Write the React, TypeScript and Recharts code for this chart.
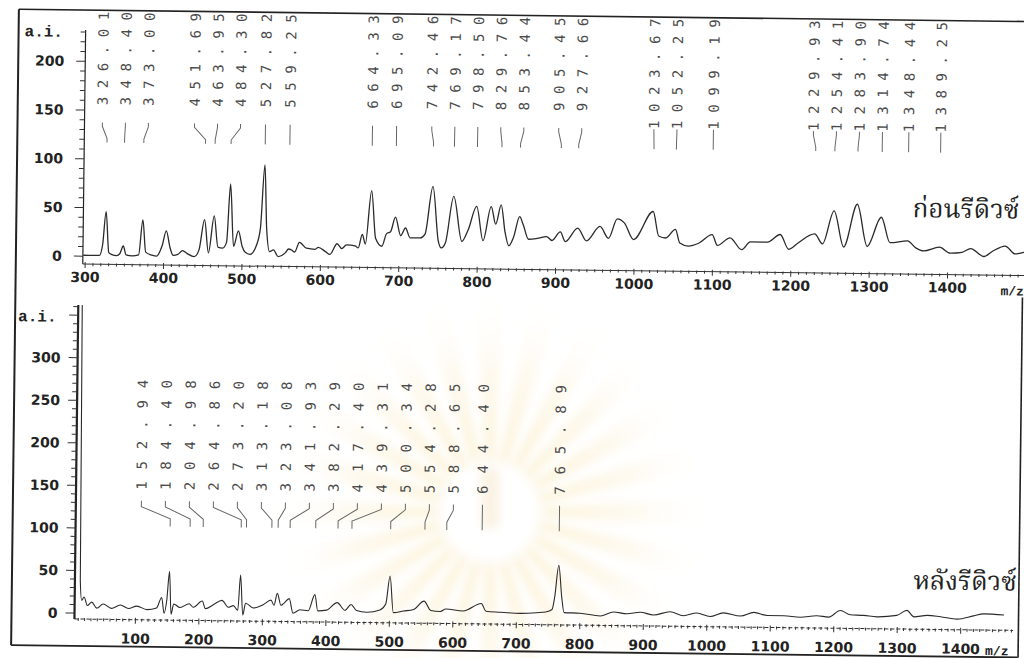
import { ComposedChart, Line, Scatter, XAxis, YAxis } from 'recharts';

// Upper trace: spectrum before reduction
const beforeMz = [
  297.5, 305, 318, 322, 326.01, 330, 334, 340, 344, 348.4, 352, 360, 368, 373, 377, 385, 391, 398, 403, 408,
  412, 418, 424, 430, 439, 445, 451.69, 457, 463.95, 469, 475, 480, 484.3, 489, 495, 500, 504, 510, 518, 523,
  527.82, 531, 535, 540, 546, 555, 559.25, 563, 567, 573, 582, 593, 597, 606, 612, 621, 627, 633, 644, 648,
  653, 657, 664.33, 670, 678, 684, 689, 695.09, 702, 708, 714, 727, 733, 742.46, 750, 754, 759, 769.17, 780, 788,
  798.5, 807, 817, 823, 829.76, 835, 840, 846, 853.44, 858, 865, 876, 888, 895, 905.45, 912, 927.66, 939, 956, 967,
  978, 987, 999, 1023.67, 1031, 1040, 1052.25, 1058, 1069, 1082, 1099.19, 1106, 1122, 1137, 1148, 1170, 1186, 1197, 1208, 1229.93,
  1240, 1254.41, 1267, 1283.9, 1297, 1314.74, 1326, 1348.44, 1359, 1369, 1389.25, 1403, 1418, 1429, 1446, 1458, 1473, 1486, 1500, 1515,
];
const beforeAi = [
  1, 1, 1, 12, 46, 4, 2, 1, 3, 11, 2, 1, 2, 38, 5, 2, 1, 12, 27, 10,
  2, 3, 7, 4, 1, 8, 39, 5, 43, 11, 10, 16, 76, 12, 28, 12, 6, 4, 13, 31,
  96, 30, 7, 9, 2, 6, 10, 9, 7, 17, 11, 10, 12, 8, 5, 16, 11, 15, 14, 12,
  26, 16, 71, 22, 14, 27, 29, 44, 25, 33, 23, 23, 27, 76, 20, 13, 18, 66, 20, 32,
  56, 21, 56, 38, 58, 30, 16, 25, 46, 38, 23, 24, 26, 22, 31, 21, 35, 22, 37, 25,
  45, 41, 24, 53, 28, 26, 35, 21, 18, 21, 30, 19, 27, 15, 23, 23, 31, 16, 22, 32,
  22, 56, 19, 63, 20, 50, 24, 26, 19, 16, 20, 14, 15, 19, 11, 17, 22, 14, 16, 12,
];
const beforePeaks = [
  326.01, 348.4, 373.0, 451.69, 463.95, 484.3, 527.82, 559.25, 664.33, 695.09, 742.46, 769.17, 798.5,
  829.76, 853.44, 905.45, 927.66, 1023.67, 1052.25, 1099.19, 1229.93, 1254.41, 1283.9, 1314.74, 1348.44, 1389.25,
];

// Lower trace: spectrum after reduction
const afterMz = [
  5, 10, 12.5, 15, 18.8, 24, 31, 39, 49, 62, 76, 89, 102, 118, 133, 141, 145, 149, 152.94, 156,
  160, 170, 184.4, 191, 204.98, 210, 223, 236, 246, 254, 261, 264.86, 269, 273.2, 286, 301, 313.18, 318, 323.08, 329,
  333, 341.93, 348, 359, 372, 382.29, 387, 401, 417.4, 430, 439.31, 448, 464, 485, 494, 500.34, 506, 522, 538, 554.28,
  565, 580, 588.65, 616, 644.4, 652, 674, 706, 732, 746, 756, 760, 765.89, 771, 775, 800, 832, 853, 874, 895,
  916, 942, 963, 984, 1005, 1026, 1053, 1074, 1095, 1121, 1147, 1173, 1192, 1210, 1226, 1247, 1268, 1299, 1315, 1326,
  1347, 1368, 1394, 1420, 1436, 1468,
];
const afterAi = [
  400, 400, 38, 15, 19, 9, 13, 6, 11, 6, 10, 6, 9, 5, 7, 19.5, 1, 16, 50, 0,
  12, 8, 12.5, 8.5, 16, 7, 12, 17, 9, 11, 5.5, 47, 0, 14, 8.5, 12.5, 18, 12, 26, 12,
  14, 20, 3, 7, 6, 25, 6, 7, 16, 7, 14, 7, 5, 8, 15, 48, 5, 7, 9, 19,
  8, 7, 10, 8, 17, 8, 7, 6, 7, 8, 11, 26, 63, 26, 7.5, 7, 4, 9, 7, 9,
  6, 10, 5.5, 9, 5, 9.5, 6, 10.5, 7, 7, 5.5, 7.5, 6, 14, 9, 8.5, 7, 9, 15, 7.5,
  9.5, 8, 5.5, 9.5, 12, 11,
];
const afterPeaks = [
  152.94, 184.4, 204.98, 264.86, 273.2, 313.18, 323.08, 341.93, 382.29, 417.4, 439.31, 500.34, 554.28, 588.65, 644.4, 765.89,
];

const beforeXLabels = [300, 400, 500, 600, 700, 800, 900, 1000, 1100, 1200, 1300, 1400];
const afterXLabels = [100, 200, 300, 400, 500, 600, 700, 800, 900, 1000, 1100, 1200, 1300, 1400];
const beforeYLabels = [0, 50, 100, 150, 200];
const afterYLabels = [0, 50, 100, 150, 200, 250, 300];

const steps = (from: number, to: number, step: number) => {
  const out: number[] = [];
  for (let v = from; v <= to; v += step) out.push(v);
  return out;
};

const tickFont = { fontFamily: '"DejaVu Sans", sans-serif', fontSize: 14, fontWeight: 700, fill: '#222' };
const monoFont = '"DejaVu Sans Mono", monospace';
const monoAdvance = 8.43; // DejaVu Sans Mono advance at 14px
const thaiFont = '"Noto Serif Thai", "Noto Sans Thai", "Norasi", "Loma", "Garuda", serif';

// push overlapping peak labels apart, each crowded group centred on its peaks
function spreadLabels(peaks: number[], gap: number): number[] {
  let groups = peaks.map((p, i) => ({ lo: i, hi: i, start: p }));
  let merged = true;
  while (merged) {
    merged = false;
    for (let k = 0; k < groups.length - 1; k++) {
      const a = groups[k];
      const b = groups[k + 1];
      const aEnd = a.start + (a.hi - a.lo) * gap;
      if (b.start - aEnd < gap) {
        const n = b.hi - a.lo + 1;
        let sum = 0;
        for (let i = a.lo; i <= b.hi; i++) sum += peaks[i];
        groups.splice(k, 2, { lo: a.lo, hi: b.hi, start: sum / n - ((n - 1) * gap) / 2 });
        merged = true;
        break;
      }
    }
  }
  const out: number[] = [];
  groups.forEach((g) => {
    for (let i = g.lo; i <= g.hi; i++) out.push(g.start + (i - g.lo) * gap);
  });
  return out;
}

type PanelProps = {
  mz: number[];
  ai: number[];
  peaks: number[];
  top: number;
  width: number;
  height: number;
  marginTop: number;
  axisW: number;
  axisH: number;
  xDomain: [number, number];
  yDomain: [number, number];
  xLabels: number[];
  yLabels: number[];
  xTicks: number[];
  yTicks: number[];
  labelGap: number;
  labelTop: number;
  labelLift: number;
  lead: number[];
  charStep: number;
  yLabelGap: number;
  xLabelDy: number;
  yAxisWidth: number;
  dashedXAxis?: boolean;
  clip?: boolean;
  lineWidth: number;
};

function Panel(p: PanelProps) {
  const pxPerUnit = (p.width - p.axisW) / (p.xDomain[1] - p.xDomain[0]);
  const labelPos = spreadLabels(p.peaks, p.labelGap / pxPerUnit);
  const spectrum = p.mz.map((m, i) => ({ x: m, y: p.ai[i] }));
  const tags = p.peaks.map((pk, i) => ({ x: labelPos[i], y: p.labelTop, text: pk.toFixed(2) }));
  const leads = p.peaks.map((pk, i) => [
    { x: labelPos[i], y: p.lead[0] },
    { x: labelPos[i], y: p.lead[1] },
    { x: pk, y: p.lead[2] },
    { x: pk, y: p.lead[3] },
  ]);
  const axisY = p.height - p.axisH;

  const renderXTick = (t: any) => {
    const v = t.payload.value;
    const major = p.xLabels.includes(v);
    return (
      <g>
        <line x1={t.x} x2={t.x} y1={axisY - (major ? 2 : 1)} y2={axisY + (major ? 4 : 2)} stroke="#333" strokeWidth={1} />
        {major && (
          <text x={t.x} y={axisY + p.xLabelDy} textAnchor="middle" {...tickFont}>
            {v}
          </text>
        )}
      </g>
    );
  };

  const renderYTick = (t: any) => {
    const v = t.payload.value;
    const major = v % 50 === 0;
    return (
      <g>
        <line x1={p.axisW - (major ? 9 : 5)} x2={p.axisW} y1={t.y} y2={t.y} stroke="#333" strokeWidth={1} />
        {p.yLabels.includes(v) && (
          <text x={p.axisW - p.yLabelGap} y={t.y} textAnchor="end" dominantBaseline="central" {...tickFont}>
            {v}
          </text>
        )}
      </g>
    );
  };

  // peak labels read upwards, their last digit hanging from the label row's top
  const renderTag = (s: any) => {
    const y = s.cy - p.labelLift;
    return (
      <text
        x={s.cx}
        y={y}
        transform={`rotate(-90 ${s.cx} ${y})`}
        textAnchor="end"
        dominantBaseline="central"
        fontFamily={monoFont}
        fontSize={14}
        fill="#4a4a4a"
        style={{ letterSpacing: `${p.charStep - monoAdvance}px` }}
      >
        {s.payload.text}
      </text>
    );
  };

  return (
    <div style={{ position: 'absolute', left: 0, top: p.top }}>
      <ComposedChart width={p.width} height={p.height} margin={{ top: p.marginTop, right: 0, bottom: 0, left: 0 }}>
        <XAxis
          type="number"
          dataKey="x"
          domain={p.xDomain}
          ticks={p.xTicks}
          interval={0}
          height={p.axisH}
          tickLine={false}
          axisLine={{ stroke: '#333', strokeWidth: 1, strokeDasharray: p.dashedXAxis ? '4 2' : undefined }}
          tick={renderXTick}
          allowDataOverflow={p.clip}
        />
        <YAxis
          type="number"
          domain={p.yDomain}
          ticks={p.yTicks}
          interval={0}
          width={p.axisW}
          tickLine={false}
          axisLine={{ stroke: '#222', strokeWidth: p.yAxisWidth }}
          tick={renderYTick}
          allowDataOverflow={p.clip}
        />
        {leads.map((d, i) => (
          <Line
            key={`lead-${i}`}
            data={d}
            dataKey="y"
            type="linear"
            stroke="#666"
            strokeWidth={1}
            dot={false}
            activeDot={false}
            isAnimationActive={false}
          />
        ))}
        <Line
          data={spectrum}
          dataKey="y"
          type="monotone"
          stroke="#2a2a2a"
          strokeWidth={p.lineWidth}
          dot={false}
          activeDot={false}
          isAnimationActive={false}
        />
        <Scatter data={tags} dataKey="y" shape={renderTag} isAnimationActive={false} />
      </ComposedChart>
    </div>
  );
}

// faint sunburst printed on the paper behind the lower trace
function Sunburst() {
  const cx = 490;
  const cy = 512;
  const rays = steps(0, 345, 15).map((deg) => {
    const a = (deg * Math.PI) / 180;
    const w = (4 * Math.PI) / 180;
    const r = 230;
    return `M${cx},${cy} L${cx + r * Math.cos(a - w)},${cy + r * Math.sin(a - w)} L${cx + r * Math.cos(a + w)},${cy + r * Math.sin(a + w)} Z`;
  });
  return (
    <svg width={1024} height={658} style={{ position: 'absolute', left: 0, top: 0 }}>
      <defs>
        <radialGradient id="rayFade" cx={cx} cy={cy} r={230} gradientUnits="userSpaceOnUse">
          <stop offset="0.2" stopColor="#f7e2a6" stopOpacity={0.5} />
          <stop offset="0.6" stopColor="#faecc6" stopOpacity={0.3} />
          <stop offset="1" stopColor="#fff" stopOpacity={0} />
        </radialGradient>
        <filter id="soft" x="-20%" y="-20%" width="140%" height="140%">
          <feGaussianBlur stdDeviation="5" />
        </filter>
      </defs>
      <g filter="url(#soft)">
        {rays.map((d, i) => (
          <path key={i} d={d} fill="url(#rayFade)" />
        ))}
        <circle cx={cx} cy={cy} r={50} fill="#fff" />
        <rect x={cx - 9} y={cy - 45} width={18} height={62} rx={8} fill="#f6ead0" opacity={0.6} />
      </g>
    </svg>
  );
}

export default function App() {
  return (
    <div style={{ position: 'absolute', left: 0, top: 0, width: 1024, height: 658, overflow: 'hidden', background: '#fff' }}>
      <Sunburst />
      <div style={{ position: 'absolute', left: 0, top: 0, width: 1100, height: 700, transform: 'rotate(0.7deg)', transformOrigin: '0 0' }}>
        <Panel
          mz={beforeMz}
          ai={beforeAi}
          peaks={beforePeaks}
          top={0}
          width={1041}
          height={290}
          marginTop={29}
          axisW={86}
          axisH={27}
          xDomain={[297, 1515]}
          yDomain={[-8, 232]}
          xLabels={beforeXLabels}
          yLabels={beforeYLabels}
          xTicks={steps(300, 1510, 10)}
          yTicks={steps(0, 230, 10)}
          labelGap={23}
          labelTop={232}
          labelLift={27}
          lead={[137.5, 133.5, 121, 117]}
          charStep={17}
          yLabelGap={21}
          xLabelDy={18}
          yAxisWidth={1.2}
          lineWidth={1.3}
        />
        <Panel
          mz={afterMz}
          ai={afterAi}
          peaks={afterPeaks}
          top={280}
          width={1021}
          height={366}
          marginTop={24}
          axisW={82}
          axisH={28}
          xDomain={[4, 1483]}
          yDomain={[-7, 362]}
          xLabels={afterXLabels}
          yLabels={afterYLabels}
          xTicks={steps(10, 1480, 10)}
          yTicks={steps(0, 360, 10)}
          labelGap={24}
          labelTop={289}
          labelLift={0}
          lead={[133, 126, 112, 103]}
          charStep={20.3}
          yLabelGap={17}
          xLabelDy={24}
          yAxisWidth={2.2}
          dashedXAxis
          clip
          lineWidth={1.1}
        />
        <svg width={1100} height={700} style={{ position: 'absolute', left: 0, top: 0, pointerEvents: 'none' }}>
          <g stroke="#222" fill="none">
            <line x1={19} y1={9} x2={19} y2={645} strokeWidth={2} />
            <line x1={19} y1={9} x2={1100} y2={9} strokeWidth={1.6} />
            <line x1={1026} y1={285} x2={1026} y2={645} strokeWidth={1.6} />
            <line x1={19} y1={645} x2={1026} y2={645} strokeWidth={1.8} />
          </g>
          <g fontFamily='"Liberation Mono", monospace' fontWeight={700} fontSize={16} fill="#222">
            <text x={25} y={36}>a.i.</text>
            <text x={22} y={321}>a.i.</text>
            <text x={1004} y={283} fontSize={13}>m/z</text>
            <text x={993} y={643} fontSize={13}>m/z</text>
          </g>
          <g fontFamily={thaiFont} fontSize={26} fill="#222" textAnchor="end">
            <text x={1022} y={206}>ก่อนรีดิวซ์</text>
            <text x={1024} y={578}>หลังรีดิวซ์</text>
          </g>
        </svg>
      </div>
    </div>
  );
}
